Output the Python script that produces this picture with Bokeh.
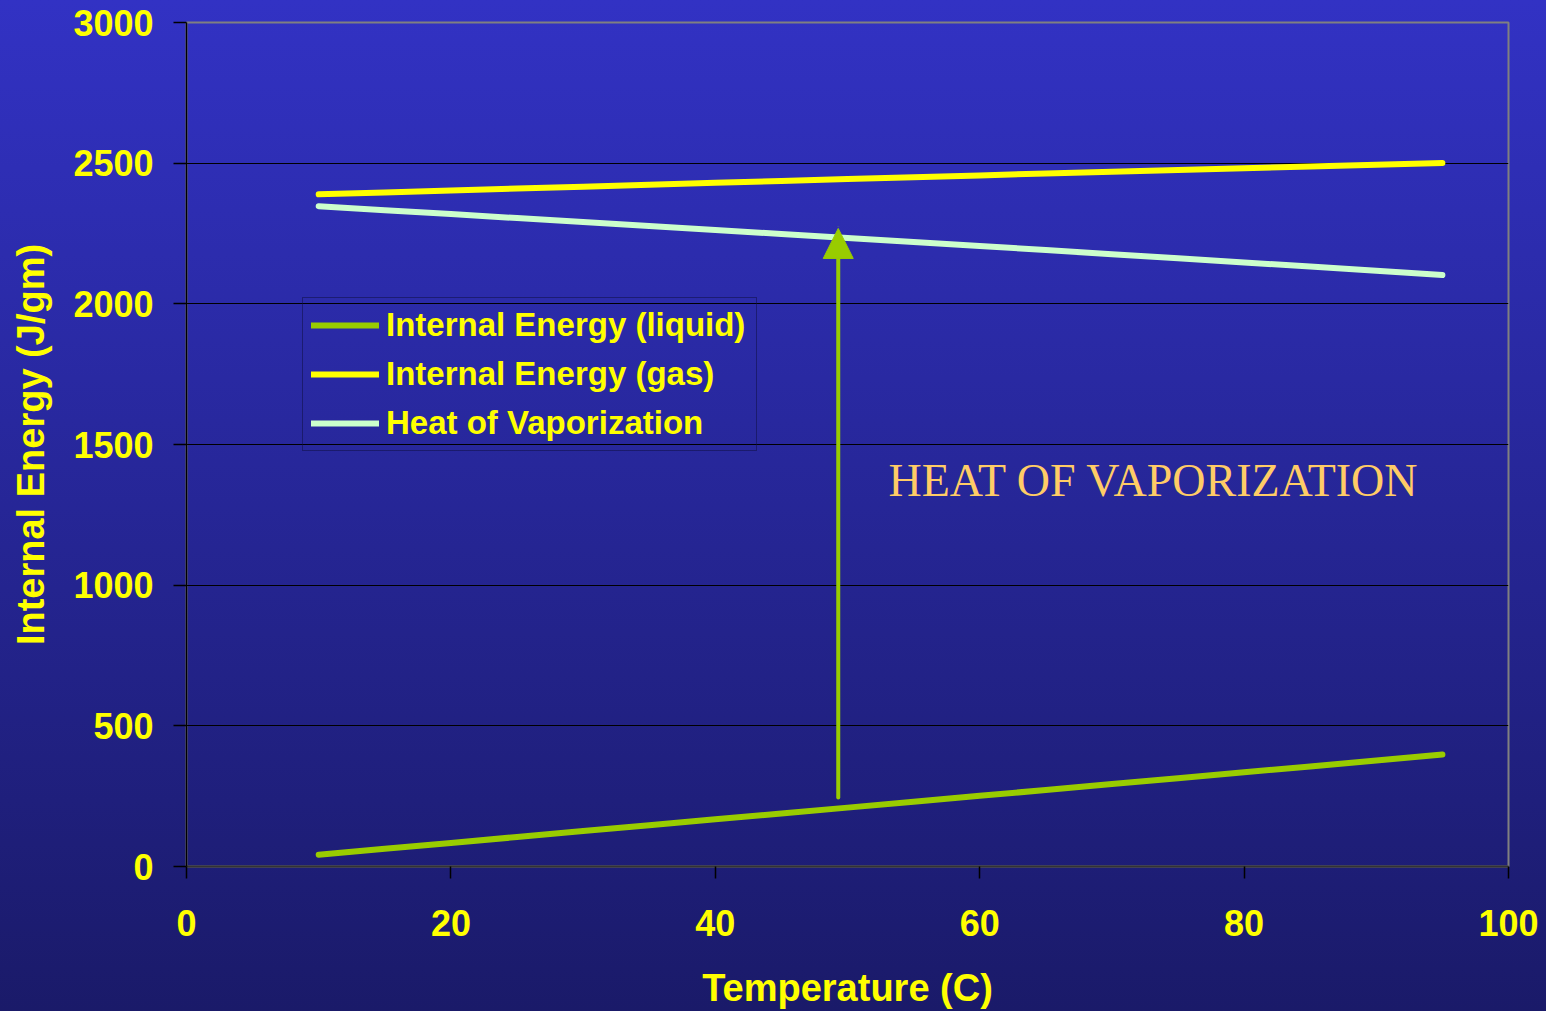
from bokeh.plotting import figure
from bokeh.models import Arrow, NormalHead, Label, Legend, LegendItem, FixedTicker
from bokeh.embed import file_html
from bokeh.resources import INLINE

# Saturated water, internal energy vs temperature
temperature = [10, 15, 20, 25, 30, 35, 40, 45, 50, 55, 60, 65, 70, 75, 80, 85, 90, 95]
u_liquid = [42.0, 63.0, 83.9, 104.9, 125.8, 146.7, 167.6, 188.4, 209.3, 230.2,
            251.1, 272.0, 293.0, 313.9, 334.9, 355.8, 376.9, 397.9]
u_gas = [2389.2, 2395.9, 2402.9, 2409.8, 2416.6, 2423.4, 2430.1, 2436.8, 2443.5, 2450.1,
         2456.6, 2463.1, 2469.6, 2475.9, 2482.2, 2488.4, 2494.5, 2500.6]
u_vap = [2347.2, 2332.9, 2319.0, 2304.9, 2290.8, 2276.7, 2262.5, 2248.4, 2234.2, 2219.9,
         2205.5, 2191.1, 2176.6, 2162.0, 2147.3, 2132.6, 2117.6, 2102.7]

x_ticks = [0, 20, 40, 60, 80, 100]
y_ticks = [0, 500, 1000, 1500, 2000, 2500, 3000]

# vertical arrow marking the jump from liquid to vapour
arrow_t = 49.3
arrow_from = 245
arrow_to = 2268

YELLOW = "#ffff00"
GREEN = "#99cc00"
MINT = "#ccffcc"
FONT = "Liberation Sans"

p = figure(width=1546, height=1011, output_backend="svg", toolbar_location=None,
           x_range=(0, 100), y_range=(0, 3000),
           min_border_left=186, min_border_right=38, min_border_top=22, min_border_bottom=145)

p.styles = {"background-image": "linear-gradient(to bottom, #3232c4, #1a1a69)"}
p.border_fill_color = None
p.background_fill_color = None
p.outline_line_color = "#808080"
p.outline_line_width = 2

r_liq = p.line(temperature, u_liquid, line_color=GREEN, line_width=6, line_cap="round", line_join="round")
r_gas = p.line(temperature, u_gas, line_color=YELLOW, line_width=6, line_cap="round", line_join="round")
r_vap = p.line(temperature, u_vap, line_color=MINT, line_width=6, line_cap="round", line_join="round")

p.add_layout(Arrow(end=NormalHead(size=30, fill_color=GREEN, line_color=GREEN, line_width=1),
                   x_start=arrow_t, y_start=arrow_from, x_end=arrow_t, y_end=arrow_to,
                   line_color=GREEN, line_width=4, line_cap="round"))

p.add_layout(Label(x=53.1, y=1372, text="HEAT OF VAPORIZATION", text_color="#ffcc66",
                   text_font="Liberation Serif", text_font_size="46px",
                   text_baseline="alphabetic", text_align="left"))

# axes
p.xaxis.ticker = FixedTicker(ticks=x_ticks)
p.yaxis.ticker = FixedTicker(ticks=y_ticks)
p.xaxis.minor_tick_line_color = None
p.yaxis.minor_tick_line_color = None
for ax in (p.xaxis, p.yaxis):
    ax.major_label_text_color = YELLOW
    ax.major_label_text_font = FONT
    ax.major_label_text_font_style = "bold"
    ax.major_label_text_font_size = "36px"
    ax.axis_label_text_color = YELLOW
    ax.axis_label_text_font = FONT
    ax.axis_label_text_font_style = "bold"
    ax.axis_label_text_font_size = "38px"
    ax.major_tick_in = 0
    ax.major_tick_line_color = "#000000"
    ax.major_tick_line_width = 1.5

p.xaxis.axis_label = "Temperature (C)"
p.yaxis.axis_label = "Internal Energy (J/gm)"
p.xaxis.major_tick_out = 12
p.yaxis.major_tick_out = 13
p.xaxis.major_label_standoff = 31
p.yaxis.major_label_standoff = 20
p.xaxis.axis_label_standoff = 28
p.yaxis.axis_label_standoff = 18
p.xaxis.axis_line_color = "#333333"
p.xaxis.axis_line_width = 2
p.yaxis.axis_line_color = "#000000"
p.yaxis.axis_line_width = 1.5

p.xgrid.grid_line_color = None
p.ygrid.ticker = FixedTicker(ticks=y_ticks[1:-1])
p.ygrid.grid_line_color = "#000000"
p.ygrid.grid_line_width = 1

legend = Legend(items=[
    LegendItem(label="Internal Energy (liquid)", renderers=[r_liq]),
    LegendItem(label="Internal Energy (gas)", renderers=[r_gas]),
    LegendItem(label="Heat of Vaporization", renderers=[r_vap]),
], location=(116, 415))
legend.background_fill_color = None
legend.border_line_color = "#0d0d3d"
legend.border_line_width = 1.5
legend.label_text_color = YELLOW
legend.label_text_font = FONT
legend.label_text_font_style = "bold"
legend.label_text_font_size = "33px"
legend.glyph_width = 68
legend.glyph_height = 36
legend.label_height = 36
legend.label_width = 362
legend.label_standoff = 7
legend.spacing = 11
legend.padding = 8
legend.margin = 0
p.add_layout(legend, "center")

open("out.html", "w").write(file_html(p, INLINE))
